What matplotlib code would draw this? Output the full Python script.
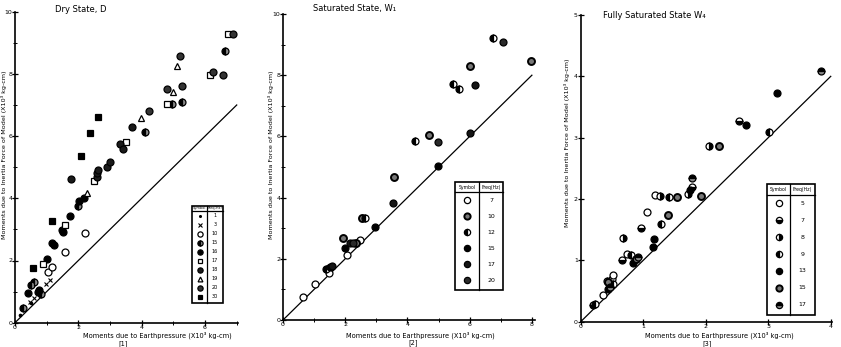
import matplotlib
matplotlib.use("Agg")
import matplotlib.pyplot as plt
from matplotlib.lines import Line2D
from matplotlib.patches import Rectangle

W, H = 841, 347

# ---------------- data ----------------
# Panel 1 : Dry State, D   (x = moment due to earth pressure, y = moment due to inertia force)
DRY_FREQS = ["1", "3", "10", "15", "16", "17", "18", "19", "20", "30"]
dry_f1 = [(0.16, 0.25), (0.50, 0.62)]
dry_f3 = [(0.47, 0.68), (0.60, 0.78), (0.98, 1.26), (1.10, 1.37)]
dry_f10 = [(1.03, 1.64), (1.18, 1.80), (1.58, 2.28), (2.21, 2.87)]
dry_f15 = [(0.26, 0.48), (0.50, 1.20), (0.60, 1.30), (0.83, 0.92), (2.00, 3.75),
           (4.11, 6.12), (4.97, 7.02), (5.26, 7.09), (6.63, 8.73)]
dry_f16 = [(0.42, 0.96), (0.72, 1.00), (0.77, 1.05), (1.02, 2.05), (1.16, 2.55), (1.23, 2.50),
           (1.47, 2.97), (1.53, 2.93), (1.74, 3.44), (2.03, 3.92), (2.18, 4.00)]
dry_f17 = [(0.87, 1.88), (1.59, 3.14), (2.50, 4.57), (3.50, 5.82), (4.81, 7.02), (6.16, 7.96), (6.72, 9.27)]
dry_f18 = [(1.77, 4.62), (2.60, 4.68), (2.60, 4.80), (2.62, 4.92), (2.89, 5.02), (3.00, 5.18),
           (3.30, 5.74), (3.40, 5.58), (3.70, 6.29)]
dry_f19 = [(2.26, 4.18), (3.99, 6.57), (4.98, 7.42), (5.13, 8.27)]
dry_f20 = [(4.24, 6.82), (4.79, 7.50), (5.26, 7.61), (5.21, 8.57), (6.26, 8.05), (6.58, 7.96), (6.89, 9.27)]
dry_f30 = [(0.58, 1.75), (1.18, 3.27), (2.08, 5.37), (2.37, 6.11), (2.63, 6.60)]

# Panel 2 : Saturated State, W1
SAT_FREQS = ["7", "10", "12", "15", "17", "20"]
sat_f7 = [(0.64, 0.76), (1.02, 1.18), (1.47, 1.53), (2.05, 2.12), (2.48, 2.61)]
sat_f10 = [(1.93, 2.67), (2.35, 2.53), (2.53, 3.34), (3.57, 4.68), (4.70, 6.05), (6.01, 8.30), (7.97, 8.46)]
sat_f12 = [(1.39, 1.66), (2.64, 3.34), (4.25, 5.85), (5.45, 7.71), (5.66, 7.55), (6.76, 9.23)]
sat_f15 = [(1.52, 1.74), (1.98, 2.34), (2.96, 3.03), (4.97, 5.04)]
sat_f17 = [(1.57, 1.78), (2.14, 2.51), (3.55, 3.83), (6.01, 6.12), (6.17, 7.68)]
sat_f20 = [(2.25, 2.51), (4.99, 5.83), (7.06, 9.10)]

# Panel 3 : Fully Saturated State, W4
FULL_FREQS = ["5", "7", "8", "9", "13", "15", "17"]
full_f5 = [(0.36, 0.43), (0.50, 0.69), (0.51, 0.76), (0.74, 1.11), (1.06, 1.79), (1.19, 2.07)]
full_f7 = [(0.20, 0.27), (0.66, 1.01), (0.97, 1.53), (1.78, 2.19), (2.53, 3.28)]
full_f8 = [(0.42, 0.66), (0.68, 1.37), (1.27, 2.05), (2.05, 2.87), (1.72, 2.08)]
full_f9 = [(0.23, 0.29), (0.51, 0.62), (0.81, 1.09), (1.29, 1.59), (3.01, 3.09), (1.42, 2.04)]
full_f13 = [(0.43, 0.54), (0.83, 0.95), (1.16, 1.22), (1.17, 1.35), (2.65, 3.20), (3.14, 3.73), (1.75, 2.14)]
full_f15 = [(0.44, 0.64), (0.89, 1.03), (1.39, 1.74), (1.54, 2.04), (2.21, 2.87), (1.93, 2.05)]
full_f17 = [(0.47, 0.57), (0.91, 1.05), (1.78, 2.34), (3.84, 4.09)]

DIAG_END = [7.0, 8.0, 4.0]  # y = x reference line end
TITLES = ["Dry State, D", "Saturated State, W\u2081", "Fully Saturated State W\u2084"]
PANEL_TAGS = ["[1]", "[2]", "[3]"]
XLABEL = "Moments due to Earthpressure (X10\u00b3 kg-cm)"
YLABEL = "Moments due to Inertia Force of Model (X10\u00b3 kg-cm)"

# ---------------- styles ----------------
def st(marker="o", face="black", alt="white", fill="full", ms=5.0, edge="black", mew=0.9):
    return dict(marker=marker, markerfacecolor=face, markerfacecoloralt=alt, fillstyle=fill,
                markersize=ms, markeredgecolor=edge, markeredgewidth=mew, linestyle="none")

DRY_STYLES = [st(".", ms=3.5), st("x", ms=3.0, mew=0.8), st("o", face="white"),
              st("o", fill="left", alt="#8a8a8a"), st("o"), st("s", face="white", ms=4.6),
              st("o", face="#1a1a1a"), st("^", face="white", ms=4.6), st("o", face="#333333"),
              st("s", ms=4.6)]
SAT_STYLES = [st("o", face="white"), st("o", face="#777777", mew=1.4), st("o", fill="left"),
              st("o"), st("o", face="#151515"), st("o", face="#2a2a2a")]
FULL_STYLES = [st("o", face="white"), st("o", fill="bottom"), st("o", fill="right"),
               st("o", fill="left"), st("o"), st("o", face="#777777", mew=1.4), st("o", fill="top", alt="#888888")]

DRY = [dry_f1, dry_f3, dry_f10, dry_f15, dry_f16, dry_f17, dry_f18, dry_f19, dry_f20, dry_f30]
SAT = [sat_f7, sat_f10, sat_f12, sat_f15, sat_f17, sat_f20]
FULL = [full_f5, full_f7, full_f8, full_f9, full_f13, full_f15, full_f17]

plt.rcParams["font.family"] = ["DejaVu Sans"]
fig = plt.figure(figsize=(W / 100, H / 100), dpi=100)


def fx(x):
    return x / W


def fy(y):
    return 1 - y / H


# axes boxes in pixels: left, right, top, bottom
BOXES = [(15, 238.3, 11.7, 322.7), (283, 535, 14, 320), (580.7, 832, 15, 321.7)]
LIMS = [(7.05, 10), (8.1, 10), (4.02, 5)]
XMAJ = [[0, 2, 4, 6], [0, 2, 4, 6, 8], [0, 1, 2, 3, 4]]
YMAJ = [[0, 2, 4, 6, 8, 10], [0, 2, 4, 6, 8, 10], [0, 1, 2, 3, 4, 5]]
XMIN = [[1, 3, 5, 7], [1, 3, 5, 7], []]
YMIN = [[1, 3, 5, 7, 9], [1, 3, 5, 7, 9], []]
XLAB_X = [157, 420, 719]
XLAB_Y = 335.5
YLAB_X = [4.0, 270.5, 567]
YLAB_Y = [155, 155, 143]
TITLE_POS = [(55, 10), (313, 8), (603, 15)]
TAG_POS = [(123, 343.5), (413, 343), (707, 344)]

panels = [(DRY, DRY_STYLES), (SAT, SAT_STYLES), (FULL, FULL_STYLES)]
axes = []
for i, (series, styles) in enumerate(panels):
    l, r, t, b = BOXES[i]
    ax = fig.add_axes([fx(l), fy(b), (r - l) / W, (b - t) / H])
    axes.append(ax)
    ax.set_xlim(0, LIMS[i][0])
    ax.set_ylim(0, LIMS[i][1])
    for sp in ["top", "right"]:
        ax.spines[sp].set_visible(False)
    for sp in ["left", "bottom"]:
        ax.spines[sp].set_linewidth(1.2)
    ax.set_xticks(XMAJ[i])
    ax.set_yticks(YMAJ[i])
    ax.set_xticks(XMIN[i], minor=True)
    ax.set_yticks(YMIN[i], minor=True)
    ax.tick_params(which="major", direction="inout", length=4, width=0.9)
    ax.tick_params(axis="x", which="major", labelsize=4.5, pad=-0.5)
    ax.tick_params(axis="y", which="major", labelsize=4.5, pad=0)
    ax.tick_params(which="minor", direction="inout", length=2.5, width=0.7)
    ax.patch.set_alpha(0)
    d = DIAG_END[i]
    ax.plot([0, d], [0, d], color="black", lw=0.9)
    for pts, sty in zip(series, styles):
        xs = [p[0] for p in pts]
        ys = [p[1] for p in pts]
        ax.plot(xs, ys, clip_on=False, **sty)
    # labels
    fig.text(fx(XLAB_X[i]), fy(XLAB_Y), XLABEL, fontsize=4.8, ha="center", va="center")
    fig.text(fx(TAG_POS[i][0]), fy(TAG_POS[i][1]), PANEL_TAGS[i], fontsize=4.8, ha="center", va="center")
    fig.text(fx(YLAB_X[i]), fy(YLAB_Y[i]), YLABEL, fontsize=4.6, ha="center", va="center", rotation=90)
    fig.text(fx(TITLE_POS[i][0]), fy(TITLE_POS[i][1]), TITLES[i], fontsize=6, ha="left", va="center")


# ---------------- symbol tables ----------------
def table(box, head_y, div_x, freqs, styles, fs, ms_scale, head_fs):
    x0, y0, x1, y1 = box
    fig.patches.append(Rectangle((fx(x0), fy(y1)), (x1 - x0) / W, (y1 - y0) / H,
                                 transform=fig.transFigure, fill=True, facecolor="white",
                                 edgecolor="black", lw=1.2, zorder=5))
    fig.lines.append(Line2D([fx(x0), fx(x1)], [fy(head_y), fy(head_y)], transform=fig.transFigure,
                            color="black", lw=0.9, zorder=6))
    fig.lines.append(Line2D([fx(div_x), fx(div_x)], [fy(y0), fy(y1)], transform=fig.transFigure,
                            color="black", lw=0.9, zorder=6))
    fig.text(fx((x0 + div_x) / 2), fy((y0 + head_y) / 2), "Symbol", fontsize=head_fs,
             ha="center", va="center", zorder=7)
    fig.text(fx((div_x + x1) / 2), fy((y0 + head_y) / 2), "Freq(Hz)", fontsize=head_fs,
             ha="center", va="center", zorder=7)
    n = len(freqs)
    step = (y1 - 2 - head_y) / n
    for k, (f, sty) in enumerate(zip(freqs, styles)):
        yy = head_y + step * (k + 0.5)
        s = dict(sty)
        s["markersize"] = sty["markersize"] * ms_scale
        fig.lines.append(Line2D([fx((x0 + div_x) / 2)], [fy(yy)], transform=fig.transFigure,
                                zorder=7, **s))
        fig.text(fx((div_x + x1) / 2), fy(yy), f, fontsize=fs, ha="center", va="center", zorder=7)


table((192, 206, 223, 303), 211, 207, DRY_FREQS, DRY_STYLES, 3.6, 0.75, 2.5)
table((455, 182, 503, 290), 192, 479, SAT_FREQS, SAT_STYLES, 4.5, 0.9, 3.3)
table((767, 184, 815, 315), 195, 790, FULL_FREQS, FULL_STYLES, 4.5, 0.9, 3.3)

fig.savefig("out.png", dpi=100)
